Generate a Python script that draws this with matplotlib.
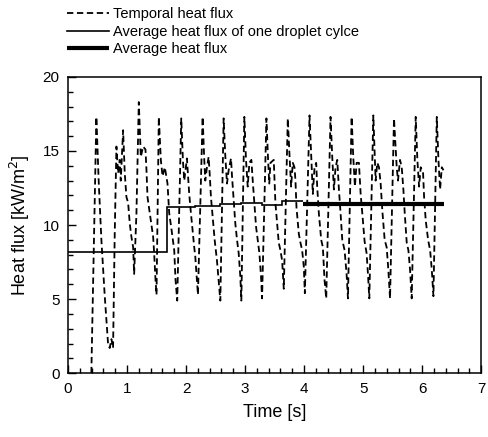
import matplotlib
matplotlib.use("Agg")
import matplotlib.pyplot as plt
from matplotlib.ticker import MultipleLocator

plt.rcParams['font.family'] = ['Liberation Sans', 'DejaVu Sans']

# temporal heat flux
time_s = [
    0.396, 0.481, 0.520, 0.566, 0.623, 0.679, 0.707, 0.736, 0.764, 0.792, 0.821,
    0.849, 0.877, 0.894, 0.934, 0.962, 0.990, 1.019, 1.047, 1.075, 1.104, 1.121,
    1.160, 1.200, 1.234, 1.273, 1.313, 1.330, 1.347, 1.404, 1.443, 1.460, 1.483,
    1.500, 1.539, 1.573, 1.602, 1.641, 1.686, 1.715, 1.754, 1.800, 1.822, 1.851,
    1.919, 1.947, 1.970, 1.998, 2.015, 2.032, 2.054, 2.083, 2.117, 2.139, 2.156,
    2.185, 2.202,
    2.281, 2.309, 2.326, 2.354, 2.383, 2.400, 2.422, 2.456, 2.485, 2.524, 2.552,
    2.581,
    2.637, 2.666, 2.694, 2.722, 2.762, 2.779, 2.807, 2.835, 2.864, 2.892, 2.920,
    2.937,
    2.988, 3.016, 3.045, 3.073, 3.107, 3.130, 3.158, 3.186, 3.215, 3.243, 3.271,
    3.288,
    3.362, 3.390, 3.410, 3.430, 3.486, 3.514, 3.571, 3.599, 3.628, 3.656,
    3.724, 3.752, 3.780, 3.809, 3.837, 3.854, 3.871, 3.911, 3.939, 3.967, 3.995,
    4.013,
    4.092, 4.120, 4.148, 4.177, 4.205, 4.222, 4.250, 4.290, 4.318, 4.346, 4.375,
    4.448, 4.477, 4.505, 4.533, 4.562, 4.590, 4.618, 4.647, 4.686, 4.720, 4.743,
    4.805, 4.833, 4.861, 4.890, 4.929, 4.958, 4.986, 5.025, 5.059, 5.082, 5.105,
    5.173, 5.212, 5.240, 5.269, 5.297, 5.325, 5.365, 5.399, 5.427, 5.456,
    5.523, 5.569, 5.591, 5.625, 5.654, 5.682, 5.705, 5.739, 5.767, 5.795, 5.823,
    5.891, 5.919, 5.948, 5.976, 6.016, 6.033, 6.061, 6.101, 6.135, 6.163, 6.191,
    6.248, 6.276, 6.304, 6.333, 6.361,
]
heat_flux = [
    0.0, 17.3, 13.0, 9.0, 5.2, 2.0, 1.7, 2.3, 1.7, 9.4, 15.3,
    13.5, 14.4, 13.0, 16.4, 13.5, 11.9, 11.5, 10.1, 9.2, 8.5, 6.7,
    10.8, 18.3, 14.6, 15.3, 15.1, 13.7, 11.9, 10.3, 9.2, 8.1, 6.3,
    5.3, 17.3, 14.4, 13.3, 13.9, 12.8, 10.8, 9.7, 8.3, 6.3, 4.9,
    17.2, 14.4, 13.0, 13.9, 14.5, 13.5, 12.1, 10.8, 9.4, 8.5, 7.9,
    6.3, 5.3,
    17.3, 14.4, 13.0, 13.9, 14.6, 13.5, 11.9, 10.3, 9.0, 7.6, 6.3,
    4.9,
    17.2, 14.6, 12.8, 13.7, 14.5, 13.3, 11.7, 10.1, 9.0, 8.1, 6.5,
    4.9,
    17.3, 14.4, 12.6, 14.2, 14.4, 13.0, 11.5, 9.9, 9.0, 8.1, 6.5,
    5.05,
    17.2, 14.4, 12.8, 14.2, 14.4, 11.5, 8.8, 8.3, 7.6, 5.7,
    17.2, 14.8, 12.6, 14.2, 13.9, 13.0, 11.2, 9.4, 8.8, 8.3, 7.2,
    5.4,
    17.4, 14.8, 12.1, 13.9, 14.2, 12.6, 10.8, 9.0, 8.5, 6.3, 5.05,
    17.3, 14.6, 12.4, 13.9, 14.4, 12.4, 10.8, 9.0, 8.3, 6.7, 5.05,
    17.3, 14.6, 12.6, 14.2, 14.2, 12.1, 10.8, 8.9, 8.1, 6.7, 5.05,
    17.4, 13.0, 14.2, 13.9, 12.8, 11.0, 9.0, 8.5, 7.0, 5.05,
    17.2, 13.9, 13.0, 14.4, 13.9, 12.4, 10.8, 8.8, 8.3, 7.0, 5.05,
    17.3, 14.4, 12.6, 13.9, 13.5, 11.9, 10.3, 9.0, 8.3, 7.0, 5.2,
    17.3, 14.4, 12.4, 13.9, 13.7,
]

# average of one droplet cycle (step edges and levels)
cycle_edges = [0.0, 1.67, 2.16, 2.58, 2.93, 3.29, 3.63, 3.99]
cycle_avg = [8.2, 11.2, 11.3, 11.4, 11.5, 11.35, 11.6]

# overall average heat flux
avg_time = [3.99, 6.37]
avg_value = [11.45, 11.45]

fig = plt.figure(figsize=(4.89, 4.37), dpi=100)
ax = fig.add_axes([0.139, 0.146, 0.845, 0.678])

ax.plot(time_s, heat_flux, color='black', lw=1.3, ls=(0, (3.5, 2.0)),
        label='Temporal heat flux')
ax.stairs(cycle_avg, cycle_edges, color='black', lw=1.2, baseline=None,
          label='Average heat flux of one droplet cylce')
ax.plot(avg_time, avg_value, color='black', lw=3.0, solid_capstyle='butt',
        label='Average heat flux')

ax.set_xlim(0, 7)
ax.set_ylim(0, 20)
ax.xaxis.set_major_locator(MultipleLocator(1))
ax.xaxis.set_minor_locator(MultipleLocator(0.2))
ax.yaxis.set_major_locator(MultipleLocator(5))
ax.yaxis.set_minor_locator(MultipleLocator(1))
ax.tick_params(which='both', direction='in', top=False, right=False,
               labelsize=11, width=1.0)
ax.tick_params(which='major', length=6, pad=6)
ax.tick_params(which='minor', length=3.5)
for s in ax.spines.values():
    s.set_linewidth(1.1)

ax.set_xlabel('Time [s]', fontsize=13, labelpad=6)
ax.set_ylabel('Heat flux [kW/m$^2$]', fontsize=13, labelpad=8)

ax.legend(loc='upper left', bbox_to_anchor=(-0.017, 1.255), frameon=False,
          fontsize=10.5, handlelength=2.9, handletextpad=0.3, labelspacing=0.25,
          borderaxespad=0)

fig.savefig('out.png', dpi=100)
